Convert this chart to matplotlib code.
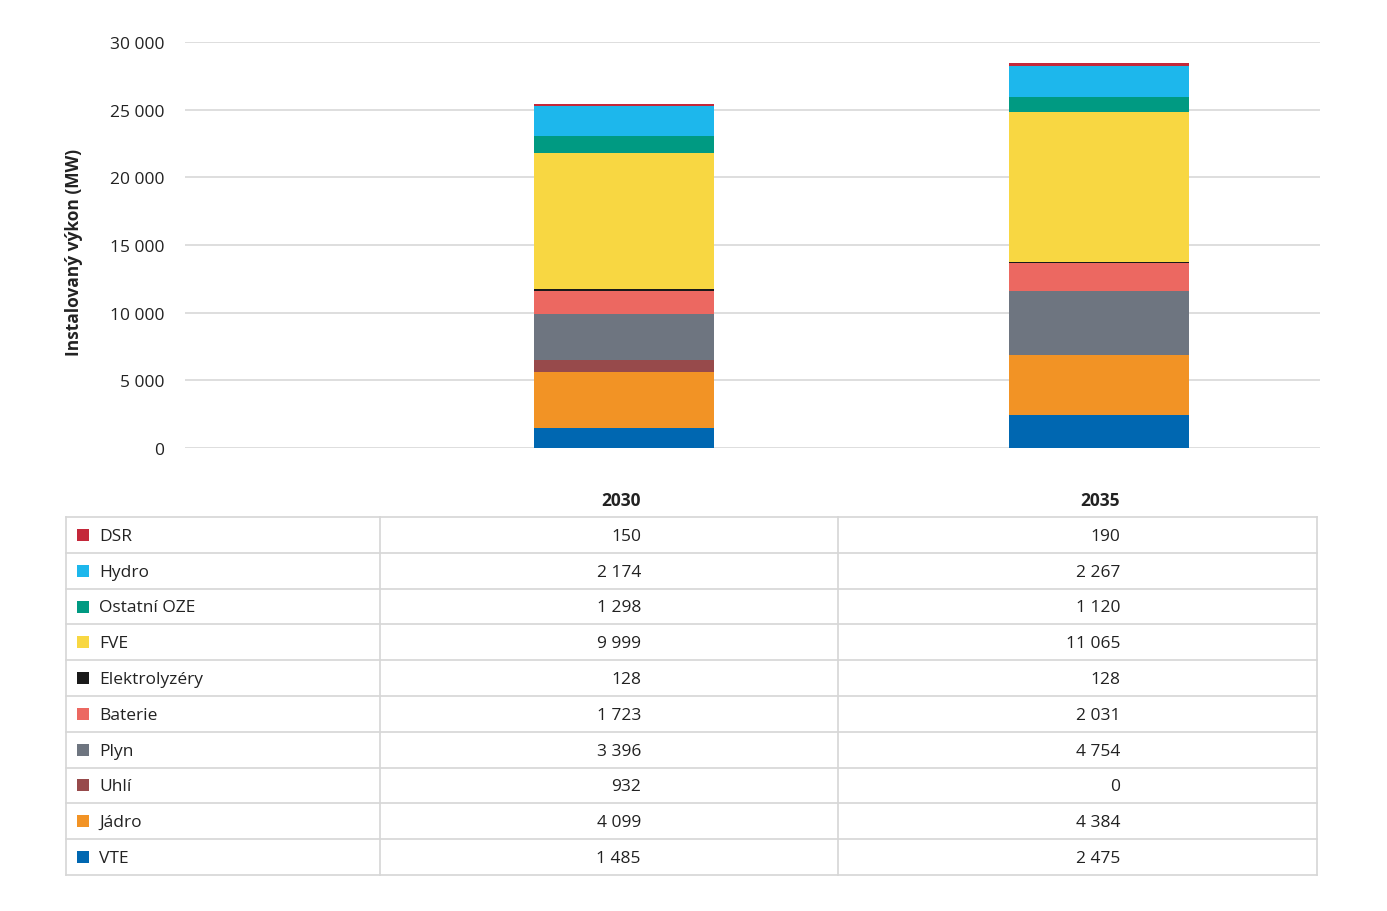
import matplotlib

matplotlib.use("Agg")
import matplotlib.pyplot as plt
from matplotlib.ticker import FuncFormatter

plt.rcParams["font.family"] = ["Open Sans", "DejaVu Sans"]

# data (bottom of stack first)
years = ["2030", "2035"]
sources = ["VTE", "Jádro", "Uhlí", "Plyn", "Baterie", "Elektrolyzéry",
           "FVE", "Ostatní OZE", "Hydro", "DSR"]
vte = [1485, 2475]
jadro = [4099, 4384]
uhli = [932, 0]
plyn = [3396, 4754]
baterie = [1723, 2031]
elektrolyzery = [128, 128]
fve = [9999, 11065]
ostatni_oze = [1298, 1120]
hydro = [2174, 2267]
dsr = [150, 190]
series = [vte, jadro, uhli, plyn, baterie, elektrolyzery, fve, ostatni_oze, hydro, dsr]
colors = ["#0067b1", "#f29325", "#974a4b", "#6e7580", "#ec6861", "#1a1a1a",
          "#f8d742", "#009a82", "#1db7ec", "#c4283a"]

FS = 12.5
TXT = "#222222"

W, H = 1387, 912
fig = plt.figure(figsize=(W / 100, H / 100), dpi=100)


def px_rect(x0, y0, x1, y1):
    # pixel box (top-left origin) -> figure fraction rect
    return [x0 / W, 1 - y1 / H, (x1 - x0) / W, (y1 - y0) / H]


# chart
ax = fig.add_axes(px_rect(185, 43, 1320, 449))
xpos = [0, 1]
unit = 475.0
ax.set_xlim(-(624 - 185) / unit, (1320 - 624) / unit)
ax.set_ylim(0, 30000)
bottom = [0, 0]
for vals, col in zip(series, colors):
    ax.bar(xpos, vals, width=180 / unit, bottom=bottom, color=col, linewidth=0, zorder=3)
    bottom = [b + v for b, v in zip(bottom, vals)]

ax.set_yticks(range(0, 30001, 5000))
ax.yaxis.set_major_formatter(FuncFormatter(lambda v, _: f"{int(v):,}".replace(",", " ")))
ax.tick_params(axis="y", length=0, pad=15, labelsize=FS, labelcolor=TXT)
ax.set_xticks([])
ax.grid(axis="y", color="#d8d8d8", linewidth=1.2, zorder=0)
for s in ax.spines.values():
    s.set_visible(False)
ax.set_ylabel("Instalovaný výkon (MW)", fontsize=FS, fontweight="bold", color=TXT)
ax.yaxis.set_label_coords((83 - 185) / 1135, (449 - 252) / 406)

# data table drawn underneath
tab = fig.add_axes([0, 0, 1, 1])
tab.set_xlim(0, W)
tab.set_ylim(H, 0)
tab.axis("off")

col_edges = [66, 380, 838, 1317]
row_top = 518
row_h = 35.8
n_rows = len(sources)
line_kw = dict(color="#d6d6d6", linewidth=1.2)
for i in range(n_rows + 1):
    y = row_top + i * row_h
    tab.plot([col_edges[0], col_edges[-1]], [y, y], **line_kw)
for x in col_edges:
    tab.plot([x, x], [row_top, row_top + n_rows * row_h], **line_kw)

val_right = [641, 1120]
for j, yr in enumerate(years):
    tab.text(val_right[j], 501, yr, ha="right", va="center", fontsize=FS,
             fontweight="bold", color=TXT)

# table rows listed top of stack first
for i, k in enumerate(reversed(range(len(sources)))):
    yc = row_top + (i + 0.5) * row_h
    tab.add_patch(plt.Rectangle((77, yc - 6), 12, 12, color=colors[k], linewidth=0))
    tab.text(99, yc + 1, sources[k], ha="left", va="center", fontsize=FS, color=TXT)
    for j in range(len(years)):
        txt = f"{series[k][j]:,}".replace(",", " ")
        tab.text(val_right[j], yc + 1, txt, ha="right", va="center", fontsize=FS,
                 color=TXT)

fig.savefig("out.png", dpi=100)
